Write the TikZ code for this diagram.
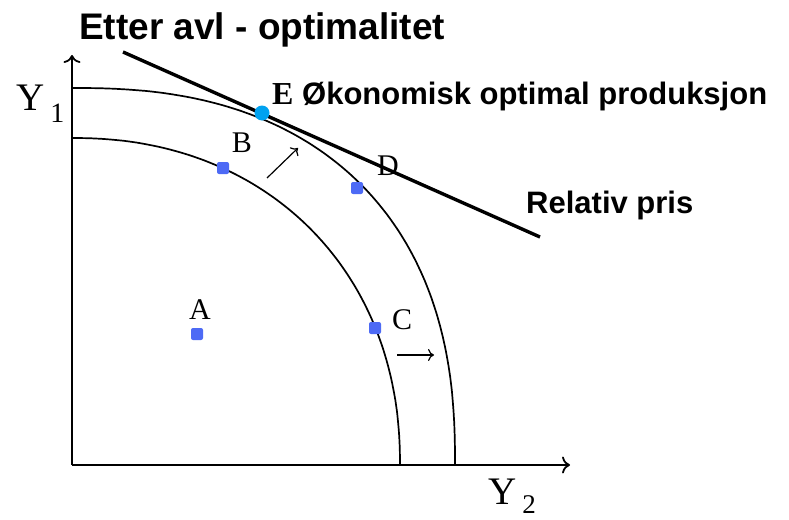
\documentclass[tikz,border=0pt]{standalone}
\usepackage{fontspec}
\setmainfont{Liberation Serif}
\setsansfont{Liberation Sans}
\usetikzlibrary{arrows.meta}
\definecolor{dotblue}{RGB}{77,106,245}
\definecolor{ecyan}{RGB}{0,162,240}
\tikzset{
  axis/.style={line width=1.8pt,-{Computer Modern Rightarrow[width=17pt,length=8pt]}},
  curve/.style={line width=1.7pt},
  shift arrow/.style={line width=1.2pt,-{Computer Modern Rightarrow[width=12pt,length=6pt]}},
  tangent/.style={line width=3.4pt},
  pdot/.style={fill=dotblue,draw=none,rounded corners=2pt,minimum size=12pt,inner sep=0pt},
  edot/.style={circle,fill=ecyan,draw=none,minimum size=15pt,inner sep=0pt},
  letter/.style={font=\fontsize{30}{30}\selectfont,inner sep=0pt,anchor=base},
  title/.style={font=\sffamily\bfseries\fontsize{37}{37}\selectfont,inner sep=0pt,anchor=base west},
  blabel/.style={font=\sffamily\bfseries\fontsize{31}{31}\selectfont,inner sep=0pt,anchor=base west},
  axlabel/.style={font=\fontsize{39}{39}\selectfont,inner sep=0pt,anchor=base west}
}
\begin{document}
\begin{tikzpicture}[x=1pt,y=-1pt]
\useasboundingbox[fill=white] (0,0) rectangle (789,519);
% axes
\coordinate (o) at (72,465);
\coordinate (ytop) at (72,55);
\coordinate (xend) at (570,465);
\draw[axis] (o) -- (ytop);
\draw[axis] (o) -- (xend);
% curves (production possibility frontiers)
\draw[curve] (400,465) -- plot[domain=0.3:89.7,samples=120,variable=\t]
  ({72+328*cos(\t)^(2/2.15)},{465-327*sin(\t)^(2/2.15)}) -- (72,138);
\draw[curve] (455,465) -- plot[domain=0.3:89.7,samples=120,variable=\t]
  ({72+383*cos(\t)^(2/2.4)},{465-377*sin(\t)^(2/2.4)}) -- (72,88);
% tangent line (relative price)
\coordinate (tl) at (123,52);
\coordinate (tr) at (540,237);
\draw[tangent] (tl) -- (tr);
% shift arrows
\coordinate (a1s) at (267,178);
\coordinate (a1e) at (298,148);
\coordinate (a2s) at (397,355);
\coordinate (a2e) at (434,355);
\draw[shift arrow] (a1s) -- (a1e);
\draw[shift arrow] (a2s) -- (a2e);
% points
\node[pdot] (pA) at (197,334) {};
\node[pdot] (pB) at (223,168) {};
\node[pdot] (pC) at (375,328) {};
\node[pdot] (pD) at (357,188) {};
\node[edot] (pE) at (262,113) {};
% point labels
\node[letter] (lA) at (200,319) {A};
\node[letter] (lB) at (242,152) {B};
\node[letter] (lC) at (402,329) {C};
\node[letter] (lD) at (388,175) {D};
% axis labels
\node[axlabel] (y1) at (16,110) {Y\hspace{6pt}\raisebox{-12pt}{\fontsize{28}{28}\selectfont 1}};
\node[axlabel] (y2) at (488,504) {Y\hspace{6pt}\raisebox{-9pt}{\fontsize{27}{27}\selectfont 2}};
% texts
\node[title] (ttl) at (79,40) {Etter avl - optimalitet};
\node[blabel] (el) at (272,104) {{\rmfamily\fontsize{32}{32}\selectfont E} Økonomisk optimal produksjon};
\node[blabel] (rp) at (526,213) {Relativ pris};
\end{tikzpicture}
\end{document}
